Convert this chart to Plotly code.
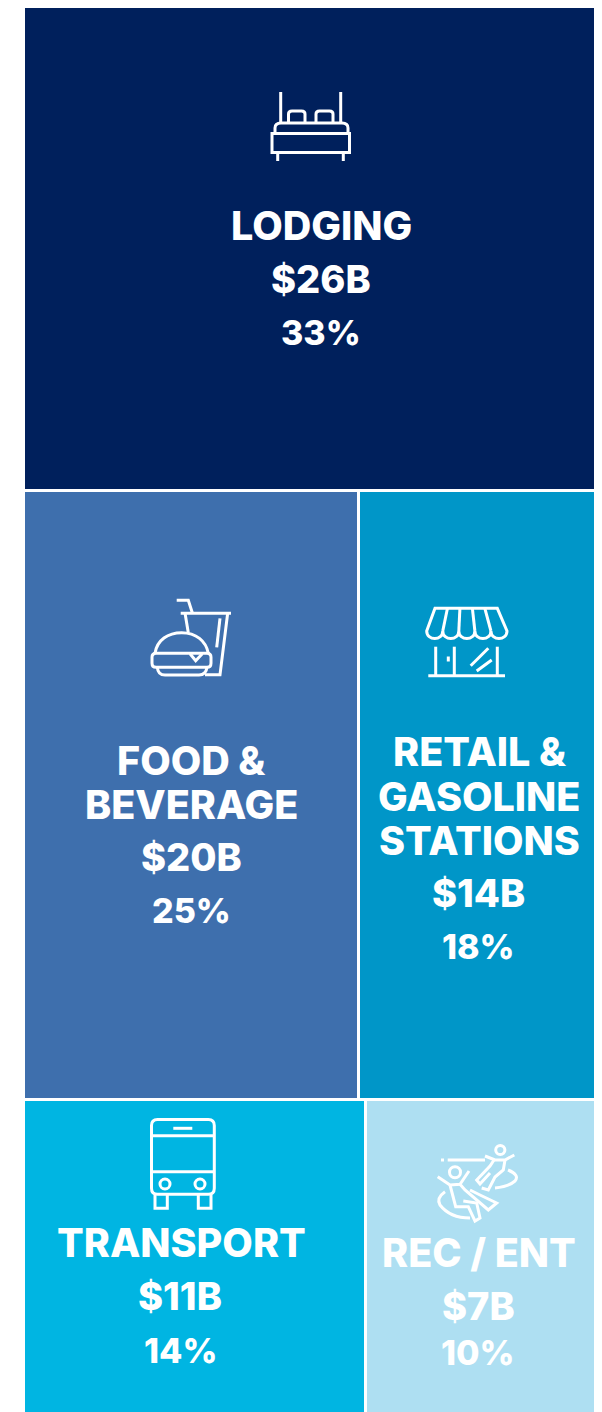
import plotly.graph_objects as go

# ---- data ----
row_labels = ["Row 1", "Row 2", "Row 3"]
categories = [["LODGING"], ["FOOD &", "BEVERAGE"], ["RETAIL &", "GASOLINE", "STATIONS"], ["TRANSPORT"], ["REC / ENT"]]
dollars = ["$26B", "$20B", "$14B", "$11B", "$7B"]
percents = ["33%", "25%", "18%", "14%", "10%"]
tile_sizes_first = [33.64, 24.7, 14.45]   # first tile of each row (estimated tile areas)
tile_sizes_second = [0, 17.6, 9.75]       # second tile of each row
colors_first = ["#00205C", "#3E6FAD", "#00B5E2"]
colors_second = ["#00205C", "#0096C8", "#AEDFF2"]

# the page sits 8px in from the window's corner, so the figure fills the rest
OFF = 8
W, H = 602 - OFF, 1412 - OFF
row_sizes = [a + b for a, b in zip(tile_sizes_first, tile_sizes_second)]
PX = 14.4            # pixels per unit of size along y
TOP = 6.5 - OFF
LEFT, RIGHT = 23.5 - OFF, 597.5 - OFF
centers, acc = [], 0.0
for s in row_sizes:
    centers.append(acc + s / 2)
    acc += s

fig = go.Figure()
for sizes, cols in ((tile_sizes_first, colors_first), (tile_sizes_second, colors_second)):
    fig.add_trace(go.Bar(
        orientation="h", y=centers, x=sizes, width=row_sizes,
        marker=dict(color=cols, line=dict(color="white", width=3)),
        hoverinfo="skip", showlegend=False,
    ))
fig.add_trace(go.Scatter(x=[OFF], y=[OFF], xaxis="x2", yaxis="y2", mode="markers",
                         marker=dict(opacity=0), hoverinfo="skip", showlegend=False))

span = RIGHT - LEFT
fig.update_layout(
    width=W, height=H, margin=dict(l=0, r=0, t=0, b=0),
    paper_bgcolor="white", plot_bgcolor="white",
    barmode="stack", barnorm="fraction", bargap=0,
    xaxis=dict(range=[-LEFT / span, (W - LEFT) / span], visible=False, fixedrange=True),
    yaxis=dict(range=[(H - TOP) / PX, -TOP / PX], visible=False, fixedrange=True),
    xaxis2=dict(range=[OFF, OFF + W], visible=False, overlaying="x", fixedrange=True),
    yaxis2=dict(range=[OFF + H, OFF], visible=False, overlaying="y", fixedrange=True),
)

FONT = "Inter"
label_x = [321, 191, 479, 181, 479]
label_y = [[226], [761, 805], [752, 797, 841], [1243], [1253]]
dollar_pos = [(321, 279), (191, 857), (478, 893), (180, 1296), (478, 1306)]
pct_pos = [(321, 332), (191, 910), (478, 946), (180, 1350), (478, 1352)]


def put(text, x, y, size):
    fig.add_annotation(text=text, x=x, y=y, xref="x2", yref="y2", showarrow=False,
                       xanchor="center", yanchor="middle",
                       font=dict(family=FONT, size=size, color="white", weight=800))


for i, lines in enumerate(categories):
    for line, ly in zip(lines, label_y[i]):
        put(line, label_x[i], ly, 39.5)
    put(dollars[i], *dollar_pos[i], 38)
    put(percents[i], *pct_pos[i], 34)


def icon(path, w=3.0, fill=None):
    fig.add_shape(type="path", path=path, xref="x2", yref="y2",
                  line=dict(color="white", width=w), fillcolor=fill or "rgba(0,0,0,0)")


def circle(cx, cy, r, w=3.0):
    fig.add_shape(type="circle", x0=cx - r, x1=cx + r, y0=cy - r, y1=cy + r, xref="x2", yref="y2",
                  line=dict(color="white", width=w))


def rrect(x0, y0, x1, y1, r):
    return (f"M{x0+r},{y0} L{x1-r},{y0} Q{x1},{y0} {x1},{y0+r} L{x1},{y1-r} Q{x1},{y1} {x1-r},{y1} "
            f"L{x0+r},{y1} Q{x0},{y1} {x0},{y1-r} L{x0},{y0+r} Q{x0},{y0} {x0+r},{y0} Z")


# bed
icon("M280.7,92 L280.7,123")
icon("M340.7,92 L340.7,123")
icon("M275,133 L275,128 Q275,123 281,123 L342,123 Q348,123 348,128 L348,133")
icon("M272,133.5 L349.5,133.5 L349.5,152.5 L272,152.5 Z")
icon("M277.7,153 L277.7,161")
icon("M343.3,153 L343.3,161")
icon("M288.5,123 L288.5,114 Q288.5,111 292,111 L301.5,111 Q305,111 305,114 L305,123")
icon("M316,123 L316,114 Q316,111 319.5,111 L329.5,111 Q333,111 333,114 L333,123")

# burger and drink
icon("M176.7,600.3 L188.3,600.3 L192.3,612.7")
icon("M180.7,613.3 L231,613.3")
icon("M185,613 L188.3,632.7")
icon("M227.7,613 L220,674.7 L205,674.7")
icon("M220,618.3 L216.7,647.3")
icon("M155,653.3 C157,640 168,632.7 181.7,632.7 C196,632.7 206,641 208.3,653.3")
icon(rrect(152, 653.3, 211, 667.3, 4))
icon("M190,653.8 L195.7,660.7 L202.3,653.8")
icon("M157.3,667.3 Q158,675 165,675 L199,675 Q206,675 207,667.3")

# shop
scallop_w = (507 - 426.7) / 5
awning = "M426.7,631 L435,608.3 L497.3,608.3 L507,631"
for k in range(5, 0, -1):
    xr = 426.7 + k * scallop_w
    xl = xr - scallop_w
    awning += f" C{xr},641 {xl},641 {xl},631"
icon(awning + " Z")
for k in range(1, 5):
    xt = 435 + k * 12.46
    xb = 426.7 + k * scallop_w
    icon(f"M{xt},608.3 L{xb},631")
icon("M435.7,646.7 L435.7,675.7")
icon("M454.3,646.7 L454.3,675.7")
icon("M497.3,646.7 L497.3,675.7")
icon("M428.3,675.7 L505,675.7")
icon("M448.3,656.5 L448.3,661.5")
icon("M470.7,665.7 L488.3,648.3")
icon("M476.7,671 L491.7,660")

# bus
icon(rrect(151.5, 1119.5, 214.3, 1194.3, 6))
icon("M151.5,1135.7 L214.3,1135.7")
icon("M151.5,1171.7 L214.3,1171.7")
icon("M173.3,1128.3 L192.3,1128.3")
circle(165, 1184, 5)
circle(200, 1184, 5)
icon("M155,1194.3 L155,1208.3 L167.3,1208.3 L167.3,1194.3")
icon("M198.3,1194.3 L198.3,1208.3 L211,1208.3 L211,1194.3")

# water slide
sw = 3.0
icon("M441,1160 L444,1160", sw)
icon("M447.7,1160 L485,1160", sw)
circle(500.3, 1150, 4.6, sw)
icon("M485,1156 L495,1160 L505,1160 L514.3,1155", sw)
icon("M494,1160 L490,1166 L476.7,1180 L480,1184 L490,1173", sw)
icon("M505,1160 L503.3,1170 L495,1177 L488.3,1190 L481.7,1188", sw)
icon("M508,1170 Q520,1175 515,1181 Q508,1187 495,1188", sw)
circle(455, 1172.3, 5.5, sw)
icon("M437.7,1176.7 L450,1185 L460,1184.3 L469,1171", sw)
icon("M450,1185 L455.7,1206.7 L468.3,1206.7 L475,1221 L480,1218 L476.7,1203 L463.3,1201", sw)
icon("M460,1184.3 L465,1190 L488.3,1210 L496.7,1203 L480,1195 L470,1190", sw)
icon("M445,1191.7 Q436,1198 440,1205 Q450,1218 470,1218", sw)

fig.write_html("out.html")
